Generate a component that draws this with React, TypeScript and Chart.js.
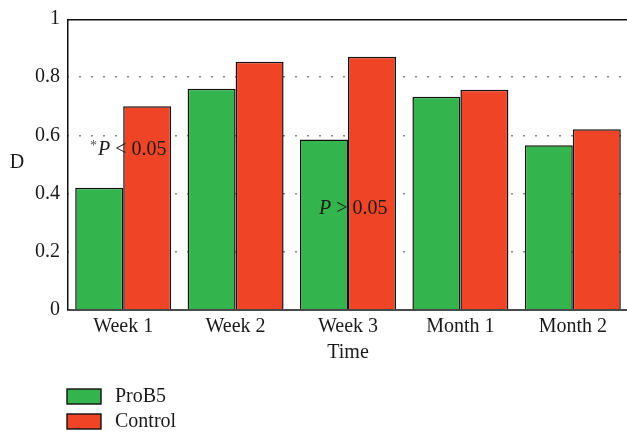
import React, { useEffect, useRef } from 'react';
import { Chart, registerables } from 'chart.js';
Chart.register(...registerables);

const categories = ['Week 1', 'Week 2', 'Week 3', 'Month 1', 'Month 2'];
const prob5Values = [0.42, 0.76, 0.586, 0.733, 0.566];
const controlValues = [0.7, 0.853, 0.87, 0.757, 0.621];
const yTickLabels = ['0', '0.2', '0.4', '0.6', '0.8', '1'];
const seriesNames = ['ProB5', 'Control'];
const seriesColors = ['#34b44c', '#ef4526'];
const xTitle = 'Time';
const yTitle = 'D';

const FONT = '"Liberation Serif", "Times New Roman", serif';
const TEXT = '#1a1a1a';
const FS = 20;

export default function App() {
  const ref = useRef<HTMLCanvasElement>(null);
  useEffect(() => {
    document.body.style.margin = '0';
    const canvas = ref.current;
    if (!canvas) return;

    const overlay = {
      id: 'overlay',
      afterDatasetsDraw(chart: any) {
        const ctx = chart.ctx;
        const a = chart.chartArea;
        ctx.save();
        // axes frame
        ctx.strokeStyle = '#111';
        ctx.lineWidth = 1.5;
        ctx.beginPath();
        ctx.moveTo(a.left + 0.75, a.top);
        ctx.lineTo(a.left + 0.75, a.bottom);
        ctx.moveTo(a.left, a.top + 0.75);
        ctx.lineTo(chart.width, a.top + 0.75);
        ctx.moveTo(a.left, a.bottom);
        ctx.lineTo(chart.width, a.bottom);
        ctx.stroke();

        ctx.fillStyle = TEXT;
        ctx.textBaseline = 'middle';
        ctx.textAlign = 'center';
        ctx.font = `${FS}px ${FONT}`;
        // y title
        ctx.fillText(yTitle, 17, 163);
        // x title
        ctx.fillText(xTitle, (a.left + a.right) / 2, 353);

        // annotations
        ctx.textAlign = 'left';
        ctx.textBaseline = 'alphabetic';
        const drawP = (x: number, y: number, rest: string, star: boolean) => {
          if (star) {
            ctx.font = `14px ${FONT}`;
            ctx.fillStyle = '#555';
            ctx.fillText('*', x - 8, y - 5);
          }
          ctx.fillStyle = TEXT;
          ctx.font = `italic ${FS}px ${FONT}`;
          ctx.fillText('P', x, y);
          const w = ctx.measureText('P').width;
          ctx.font = `${FS}px ${FONT}`;
          ctx.fillText(rest, x + w, y);
        };
        drawP(98, 155, ' < 0.05', true);
        drawP(319, 214, ' > 0.05', false);

        // legend
        ctx.lineWidth = 1.4;
        ctx.strokeStyle = '#111';
        ctx.font = `${FS}px ${FONT}`;
        ctx.textBaseline = 'middle';
        seriesNames.forEach((name, i) => {
          const y = 389 + i * 25;
          ctx.fillStyle = seriesColors[i];
          ctx.fillRect(67, y, 34, 15);
          ctx.strokeRect(67, y, 34, 15);
          ctx.fillStyle = TEXT;
          ctx.fillText(name, 115, y + 8);
        });
        ctx.restore();
      },
    };

    const chart = new Chart(canvas, {
      type: 'bar',
      data: {
        labels: categories,
        datasets: [
          {
            label: seriesNames[0],
            data: prob5Values,
            backgroundColor: seriesColors[0],
            borderColor: '#111',
            borderWidth: 1.5,
            categoryPercentage: 0.854,
            barPercentage: 1,
          },
          {
            label: seriesNames[1],
            data: controlValues,
            backgroundColor: seriesColors[1],
            borderColor: '#111',
            borderWidth: 1.5,
            categoryPercentage: 0.854,
            barPercentage: 1,
          },
        ],
      },
      options: {
        responsive: false,
        animation: false,
        devicePixelRatio: 1,
        layout: { padding: { top: 18, right: 3, left: 0, bottom: 0 } },
        plugins: { legend: { display: false }, tooltip: { enabled: false } },
        scales: {
          x: {
            grid: { display: false, drawTicks: false },
            border: { display: false },
            ticks: { color: TEXT, font: { family: FONT, size: FS }, padding: 5, maxRotation: 0 },
            afterFit: (s: any) => { s.height = 122; },
          },
          y: {
            min: 0,
            max: 1,
            grid: {
              drawTicks: false,
              lineWidth: 1.5,
              color: (c: any) => (c.tick && (c.tick.value === 0 || c.tick.value === 1) ? 'rgba(0,0,0,0)' : '#8a8a8a'),
            },
            border: { display: false, dash: [2, 10] },
            ticks: {
              stepSize: 0.2,
              color: TEXT,
              font: { family: FONT, size: FS },
              padding: 7,
              callback: (_v: any, i: number) => yTickLabels[i],
            },
            afterFit: (s: any) => { s.width = 67; },
          },
        },
      },
      plugins: [overlay],
    });
    return () => chart.destroy();
  }, []);

  return (
    <div style={{ position: 'fixed', left: 0, top: 0, width: 627, height: 432, overflow: 'hidden', background: '#fff' }}>
      <canvas ref={ref} width={632} height={432} style={{ display: 'block' }} />
    </div>
  );
}
